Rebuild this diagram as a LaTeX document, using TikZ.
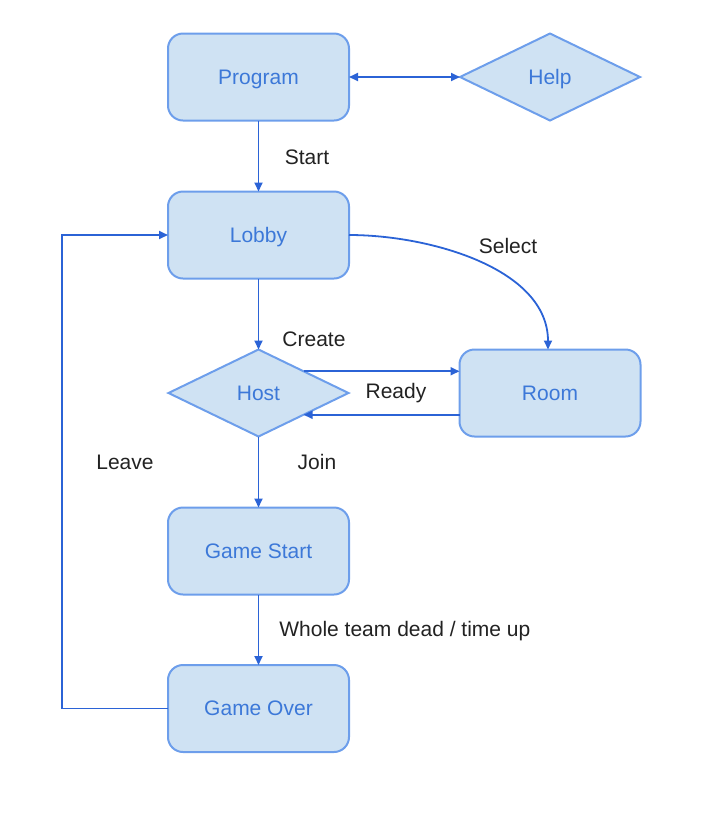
\documentclass[tikz,border=0pt]{standalone}
\usepackage{fontspec}
\setmainfont{Liberation Sans}
\usetikzlibrary{shapes.geometric,arrows.meta}

\definecolor{boxfill}{HTML}{CFE2F3}
\definecolor{boxline}{HTML}{6D9EEB}
\definecolor{boxtext}{HTML}{3C78D8}
\definecolor{linkline}{HTML}{2B63D6}
\definecolor{labeltext}{HTML}{222222}

\tikzset{
  state/.style={draw=boxline, fill=boxfill, line width=1pt, rounded corners=7.5pt,
    minimum width=90.5pt, minimum height=43.5pt, inner sep=0pt, outer sep=0pt,
    text=boxtext, font=\fontsize{10.5}{12}\selectfont, text height=1.6ex, text depth=0.2ex},
  choice/.style={diamond, draw=boxline, fill=boxfill, line width=1pt,
    minimum width=90pt, minimum height=43.5pt, inner sep=0pt, outer sep=0pt,
    text=boxtext, font=\fontsize{10.5}{12}\selectfont, text height=1.6ex, text depth=0.2ex},
  link/.style={draw=linkline, line width=0.9pt, -{Triangle[length=4.5pt,width=4pt]}},
  tag/.style={text=labeltext, font=\fontsize{10.5}{12}\selectfont, inner sep=0pt}
}

\begin{document}
\begin{tikzpicture}[x=0.5pt,y=-0.5pt]
\useasboundingbox (0,0) rectangle (706,816);

% states
\node[state] (program) at (258.5,77) {Program};
\node[choice] (help) at (550,77) {Help};
\node[state] (lobby) at (258.5,235) {Lobby};
\node[choice] (host) at (258.5,393) {Host};
\node[state] (room) at (550,393) {Room};
\node[state] (gamestart) at (258.5,551) {Game Start};
\node[state] (gameover) at (258.5,708.5) {Game Over};

% connectors
\draw[link, {Triangle[length=4.5pt,width=4pt]}-{Triangle[length=4.5pt,width=4pt]}] (program.east) -- (help.west);
\draw[link] (program.south) -- (lobby.north);
\draw[link] (lobby.east) to[out=0,in=90,looseness=0.9] ([xshift=-1pt]room.north);
\draw[link] (lobby.south) -- (host.north);
\draw[link] (host.north east) -- (room.west |- host.north east);
\draw[link] (room.west |- host.south east) -- (host.south east);
\draw[link] (host.south) -- (gamestart.north);
\draw[link] (gamestart.south) -- (gameover.north);
\draw[link] (gameover.west) -- ++(-106,0) |- (lobby.west);

% labels
\node[tag] (start) at (307,157) {Start};
\node[tag] (select) at (508,246) {Select};
\node[tag] (create) at (314,339) {Create};
\node[tag] (ready) at (396,393) {Ready};
\node[tag] (join) at (317,462) {Join};
\node[tag] (leave) at (125,462) {Leave};
\node[tag, anchor=west] (dead) at (279,631) {Whole team dead / time up};
\end{tikzpicture}
\end{document}
